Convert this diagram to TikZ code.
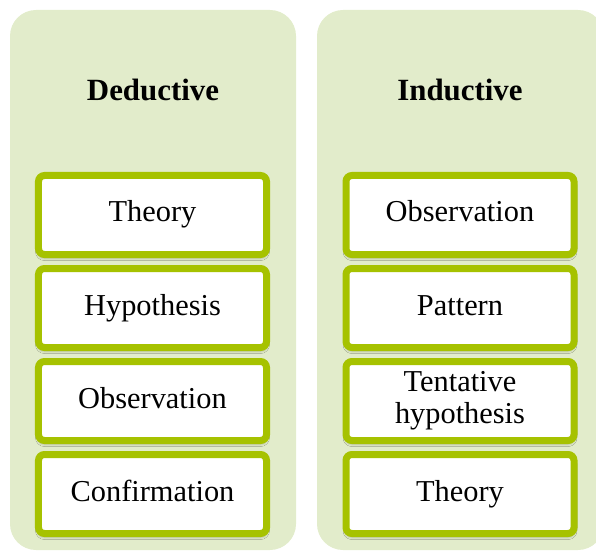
\documentclass[tikz,border=0pt]{standalone}
\usepackage{fontspec}
\setmainfont{Liberation Serif}
\usetikzlibrary{shadows.blur}
\definecolor{panelfill}{HTML}{E2ECCB}
\definecolor{stepgreen}{HTML}{A6C200}
\tikzset{
  panel/.style={fill=panelfill, rounded corners=26bp},
  heading/.style={font=\fontsize{31}{34}\selectfont\bfseries, anchor=base},
  stepbox/.style={draw=stepgreen, line width=7bp, fill=white, rounded corners=6bp,
    minimum width=228bp, minimum height=79bp, inner sep=0pt, align=center,
    font=\fontsize{30.5}{33}\selectfont, text height=21bp, text depth=7bp,
    blur shadow={shadow xshift=0bp, shadow yshift=-3bp, shadow blur radius=3bp, shadow opacity=35}},
}
\begin{document}
\begin{tikzpicture}[x=1bp,y=-1bp]
  \useasboundingbox (0,0) rectangle (596,554);
  \clip (0,0) rectangle (596,554);
  % background columns
  \fill[panel] (10,10) rectangle (296,550);
  \fill[panel] (317,10) rectangle (604,550);
  % column titles
  \node[heading] (ded) at (153,101) {Deductive};
  \node[heading] (ind) at (460,101) {Inductive};
  % deductive steps
  \node[stepbox] (d1) at (152.5,215) {Theory};
  \node[stepbox] (d2) at (152.5,308) {Hypothesis};
  \node[stepbox] (d3) at (152.5,401) {Observation};
  \node[stepbox] (d4) at (152.5,494) {Confirmation};
  % inductive steps
  \node[stepbox] (i1) at (460,215) {Observation};
  \node[stepbox] (i2) at (460,308) {Pattern};
  \node[stepbox, text height=, text depth=, font=\fontsize{30.5}{32}\selectfont] (i3) at (460,401) {Tentative\\hypothesis};
  \node[stepbox] (i4) at (460,494) {Theory};
\end{tikzpicture}
\end{document}
